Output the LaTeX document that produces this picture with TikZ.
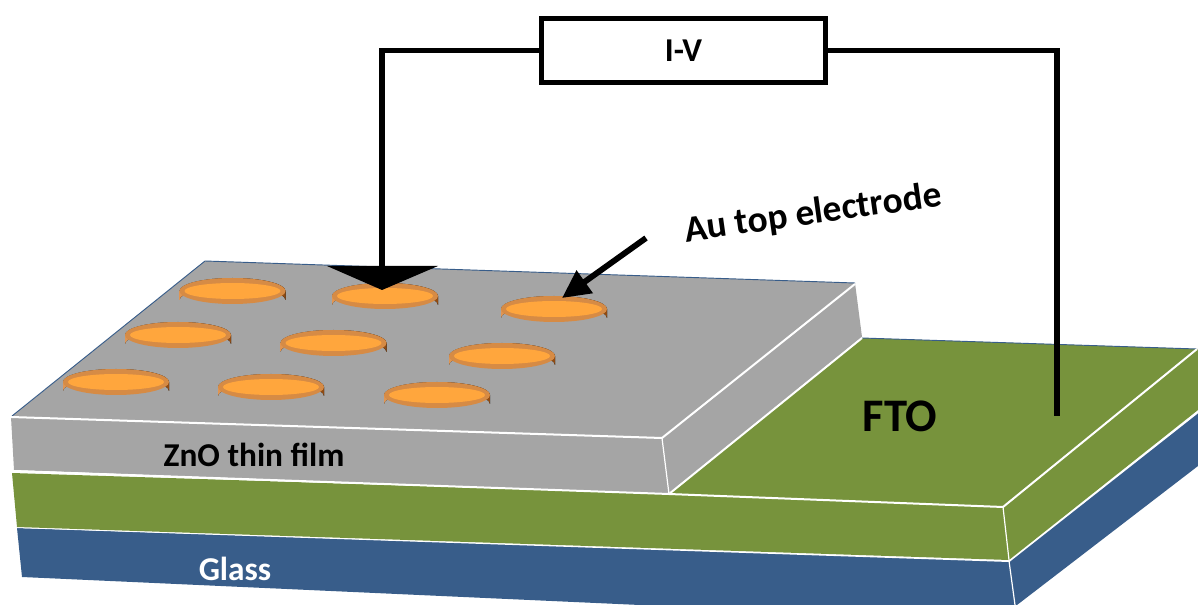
\documentclass[tikz,border=0pt]{standalone}
\usepackage{fontspec}
\setmainfont{Carlito}
\usetikzlibrary{arrows.meta}
\definecolor{zno}{HTML}{A5A5A5}
\definecolor{fto}{HTML}{77933C}
\definecolor{glassb}{HTML}{385D8A}
\definecolor{rim}{HTML}{D68B45}
\definecolor{gold}{HTML}{FFA63D}
\definecolor{sideL}{HTML}{E09552}
\definecolor{sideM}{HTML}{C77C3B}
\definecolor{sideR}{HTML}{8E4A12}
\tikzset{
  face/.style={line width=1.5pt,draw=white,line join=round},
  backedge/.style={line width=0.7pt,draw=glassb},
  wire/.style={line width=4.2pt,draw=black,line cap=butt,line join=miter},
  lbl/.style={inner sep=0pt,font=\bfseries},
  pointer/.style={line width=4.4pt,draw=black,-{Triangle[length=21pt,width=20pt]}},
  pics/disk/.style={code={
    \fill[left color=sideL,middle color=sideM,right color=sideR]
      (-53,0) -- (-53,9) arc[start angle=180,end angle=360,x radius=53,y radius=13] -- (53,0)
      arc[start angle=0,end angle=-180,x radius=53,y radius=13] -- cycle;
    \fill[rim] (0,0) ellipse[x radius=53,y radius=13];
    \fill[gold] (0,0) ellipse[x radius=48,y radius=8];
  }}
}
\begin{document}
\begin{tikzpicture}[x=0.75pt,y=-0.75pt]
\useasboundingbox (0,0) rectangle (1198,605);
% glass
\fill[glassb] (17,528) -- (1009,561) -- (1198,412) -- (1198,466) -- (1017,605) -- (640,605) -- (22,577) -- cycle;
\draw[face] (16,527) -- (1009,561) -- (1198,412);
\draw[white,line width=0.9pt] (1009,561) -- (1015,605);
% FTO
\fill[fto] (12,473) -- (669,494) -- (862,338) -- (1197,349) -- (1198,350) -- (1198,410) -- (1009,560) -- (17,527) -- cycle;
\draw[backedge] (862,338) -- (1197,349);
\draw[face] (669,494) -- (1003,507) -- (1197,349);
\draw[white,line width=0.9pt] (1003,507) -- (1009,560);
% ZnO
\fill[zno] (205,261) -- (855,283) -- (862,337) -- (669,494) -- (14,470) -- (11,417) -- cycle;
\draw[backedge] (12,416) -- (205,261) -- (855,283);
\draw[face] (11,417) -- (662,438) -- (855,284);
\draw[face] (14,471) -- (669,494) -- (862,338);
\draw[white,line width=0.9pt] (662,438) -- (669,494);
% disks
\foreach \cx/\cy in {232.5/291,385/296,554/309,178/335,333.5/343,502/356,116/382,271/387,437/395}
  \pic at (\cx,\cy) {disk};
% labels
\node[lbl,font=\bfseries\fontsize{25}{25}\selectfont] (zn) at (254,455) {ZnO thin film};
\node[lbl,text=white,font=\bfseries\fontsize{25}{25}\selectfont] (gl) at (235,569) {Glass};
\node[lbl,font=\bfseries\fontsize{35}{35}\selectfont] (ft) at (900,416) {FTO};
\node[lbl,rotate=8,font=\bfseries\fontsize{28}{28}\selectfont] (au) at (813,214) {Au top electrode};
% I-V circuit
\node[draw=black,line width=3.8pt,minimum width=213pt,minimum height=48pt,inner sep=0pt,font=\bfseries\fontsize{25}{25}\selectfont] (iv) at (683.5,50.5) {I-V};
\coordinate (tipL) at (382,270);
\coordinate (tipR) at (1057,416);
\coordinate (auTip) at (562,298);
\coordinate (auTail) at (646,238);
\draw[wire] (iv.west) -| (tipL);
\draw[wire] (iv.east) -| (tipR);
\fill[black] (327,266) -- (438,266) -- (382,290) -- cycle;
\draw[pointer] (auTail) -- (auTip);
\end{tikzpicture}
\end{document}
